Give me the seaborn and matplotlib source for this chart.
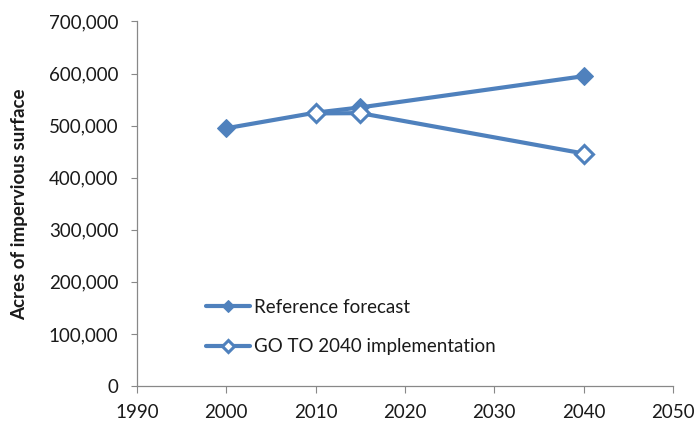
import matplotlib
matplotlib.use("Agg")
import matplotlib.pyplot as plt
import matplotlib.ticker as mticker
import seaborn as sns
import pandas as pd

ref_years = [2000, 2010, 2015, 2040]
reference_forecast = [495000, 525000, 535000, 595000]
go_years = [2010, 2015, 2040]
goto2040 = [523500, 524000, 446500]
series_labels = ["Reference forecast", "GO TO 2040 implementation"]
x_ticks = [1990, 2000, 2010, 2020, 2030, 2040, 2050]
y_ticks = [0, 100000, 200000, 300000, 400000, 500000, 600000, 700000]

sns.set_style("white")
plt.rcParams["font.family"] = ["Lato", "DejaVu Sans"]

color = "#4F81BD"
text_color = "#1a1a1a"
fig = plt.figure(figsize=(6.98, 4.30), dpi=100)
ax = fig.add_axes([137 / 698, 44 / 430, 536 / 698, 364.5 / 430])

df_ref = pd.DataFrame({"year": ref_years, "acres": reference_forecast})
df_go = pd.DataFrame({"year": go_years, "acres": goto2040})

sns.lineplot(data=df_ref, x="year", y="acres", ax=ax, color=color, lw=3,
             marker="D", markersize=9, markerfacecolor=color,
             markeredgecolor=color, label=series_labels[0], zorder=3)
sns.lineplot(data=df_go, x="year", y="acres", ax=ax, color=color, lw=3,
             marker="D", markersize=9, markerfacecolor="white",
             markeredgecolor=color, markeredgewidth=2.2,
             label=series_labels[1], zorder=4)

ax.set_xlim(1990, 2050)
ax.set_ylim(0, 700000)
ax.set_xticks(x_ticks)
ax.set_yticks(y_ticks)
ax.yaxis.set_major_formatter(mticker.FuncFormatter(lambda v, p: f"{int(v):,}"))
ax.set_xlabel("")
ax.set_ylabel("Acres of impervious surface", fontsize=13.5, fontweight="bold",
              color=text_color, labelpad=15)

for s in ["top", "right"]:
    ax.spines[s].set_visible(False)
for s in ["left", "bottom"]:
    ax.spines[s].set_color("#888888")
    ax.spines[s].set_linewidth(0.9)

ax.tick_params(axis="x", direction="out", length=5, color="#888888",
               labelsize=13.5, labelcolor=text_color, pad=8, bottom=True)
ax.tick_params(axis="y", direction="out", length=4, color="#888888",
               labelsize=13.5, labelcolor=text_color, pad=9.5, left=True)

leg = ax.legend(loc="upper left", bbox_to_anchor=(0.098, 0.285), frameon=False,
                fontsize=13.5, handlelength=2.35, labelspacing=1.2,
                handletextpad=0.2, markerscale=0.65)
for t in leg.get_texts():
    t.set_color(text_color)

fig.savefig("out.png", dpi=100)
